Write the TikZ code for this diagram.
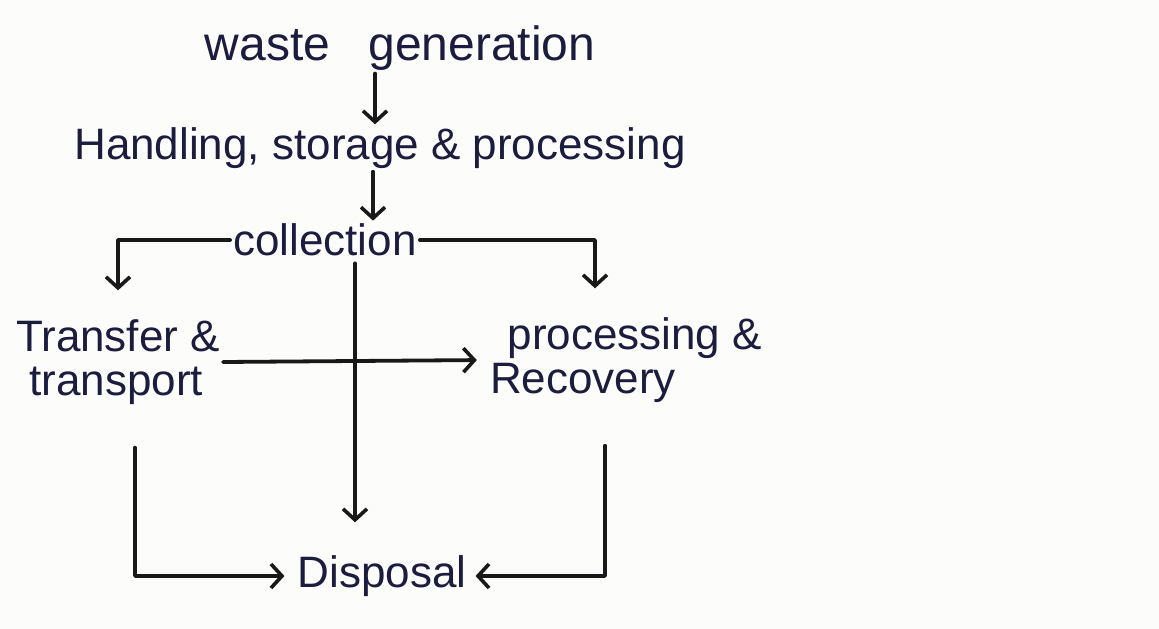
\documentclass[tikz,border=0pt]{standalone}
\usepackage{fontspec}
\setmainfont{Liberation Sans}
\usetikzlibrary{arrows.meta}
\definecolor{ink}{RGB}{28,28,62}
\definecolor{paper}{RGB}{252,252,250}
\tikzset{
  lbl/.style={text=ink, inner sep=3pt, font=\fontsize{44}{44}\selectfont, align=center},
  conn/.style={draw=black!90, line width=3.8pt, line cap=round, line join=round},
  arr/.style={conn, -{Straight Barb[length=11pt,width=24pt,line width=3.6pt]}}
}
\begin{document}
\begin{tikzpicture}[x=1pt,y=-1pt]
\fill[paper] (0,0) rectangle (1159,629);
\useasboundingbox (0,0) rectangle (1159,629);

\node[lbl, font=\fontsize{48}{48}\selectfont] (wg)  at (400,48)  {waste\hspace{0.8em}generation};
\node[lbl] (hsp) at (380,148) {Handling, storage \& processing};
\node[lbl] (col) at (325,240) {collection};
\node[lbl, align=left] (tt) at (118,362) {Transfer \&\\\hspace{0.3em}transport};
\node[lbl, align=left] (pr) at (626,360) {\hspace{0.4em}processing \&\\Recovery};
\node[lbl] (dis) at (382,576) {Disposal};

\coordinate (xa) at (375,0);
\coordinate (xb) at (373,0);
\coordinate (xc) at (355,0);
\coordinate (xl) at (118,0);
\coordinate (xr) at (595,0);
\coordinate (xll) at (135,0);
\coordinate (xrr) at (605,0);

\draw[arr] (wg.south -| xa) -- (hsp.north -| xa);
\draw[arr] (hsp.south -| xb) -- (col.north -| xb);
\draw[arr, shorten >=26pt] (col.west) -| (tt.north -| xl);
\draw[arr, shorten >=26pt] (col.east) -| (pr.north -| xr);
\draw[arr, shorten <=4pt, shorten >=30pt] (col.south -| xc) -- (dis.north -| xc);
\draw[arr, shorten >=10pt] (tt.east) -- (pr.west);
\draw[arr, shorten >=10pt] ([yshift=-40pt]tt.south -| xll) |- (dis.west);
\draw[arr, shorten >=6pt] ([yshift=-40pt]pr.south -| xrr) |- (dis.east);
\end{tikzpicture}
\end{document}
